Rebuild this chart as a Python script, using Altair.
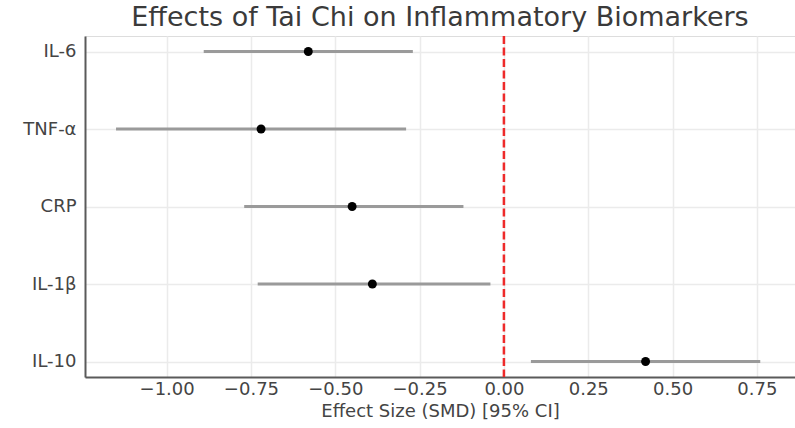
import altair as alt
import pandas as pd

markers = ["IL-6", "TNF-α", "CRP", "IL-1β", "IL-10"]
effects = [-0.58, -0.72, -0.45, -0.39, 0.42]
ci_low = [-0.89, -1.15, -0.77, -0.73, 0.08]
ci_high = [-0.27, -0.29, -0.12, -0.04, 0.76]

df = pd.DataFrame({"marker": markers, "effect": effects, "low": ci_low, "high": ci_high})
zero = pd.DataFrame({"x": [0.0]})

xscale = alt.Scale(domain=[-1.242, 0.863], nice=False, zero=False)
yscale = alt.Scale(type="point", padding=0.2)

x_axis = alt.Axis(
    title="Effect Size (SMD) [95% CI]",
    values=[-1.0, -0.75, -0.5, -0.25, 0.0, 0.25, 0.5, 0.75],
    format=".2f",
    labelExpr="replace(datum.label, '-', '\u2212')",
    grid=True, gridColor="#ebebeb", gridWidth=1.5,
    domain=True, domainColor="#5a5a5a", domainWidth=2,
    ticks=False, labelPadding=3,
    labelFontSize=18, labelColor="#444444", labelFont="DejaVu Sans",
    titleFontSize=18, titleColor="#444444", titleFont="DejaVu Sans", titleFontWeight="normal",
    titlePadding=4,
)
y_axis = alt.Axis(
    title=None,
    grid=True, gridColor="#ebebeb", gridWidth=1.5,
    domain=True, domainColor="#5a5a5a", domainWidth=2,
    ticks=False, labelPadding=9,
    labelFontSize=18, labelColor="#444444", labelFont="DejaVu Sans",
)

base = alt.Chart(df)

ci = base.mark_rule(color="#9a9a9a", strokeWidth=3).encode(
    x=alt.X("low:Q", scale=xscale, axis=x_axis),
    x2="high:Q",
    y=alt.Y("marker:N", sort=markers, scale=yscale, axis=y_axis),
)

pts = base.mark_circle(color="black", opacity=1, size=80).encode(
    x=alt.X("effect:Q", scale=xscale),
    y=alt.Y("marker:N", sort=markers, scale=yscale),
)

zline = alt.Chart(zero).mark_rule(color="#ee2a2a", strokeWidth=2.5, strokeDash=[8, 3.5]).encode(
    x=alt.X("x:Q", scale=xscale),
)

chart = alt.layer(ci, zline, pts).properties(
    width=710,
    height=341,
    title=alt.TitleParams(
        "Effects of Tai Chi on Inflammatory Biomarkers",
        fontSize=27, font="DejaVu Sans", fontWeight="normal", color="#3a3a3a",
        anchor="middle", offset=3,
    ),
    autosize=alt.AutoSizeParams(type="none"),
    padding={"left": 85, "top": 36, "right": 0, "bottom": 51},
).configure_view(stroke=None).configure(background="white")

chart.save("out.html", embed_options={"renderer": "svg", "actions": False})
